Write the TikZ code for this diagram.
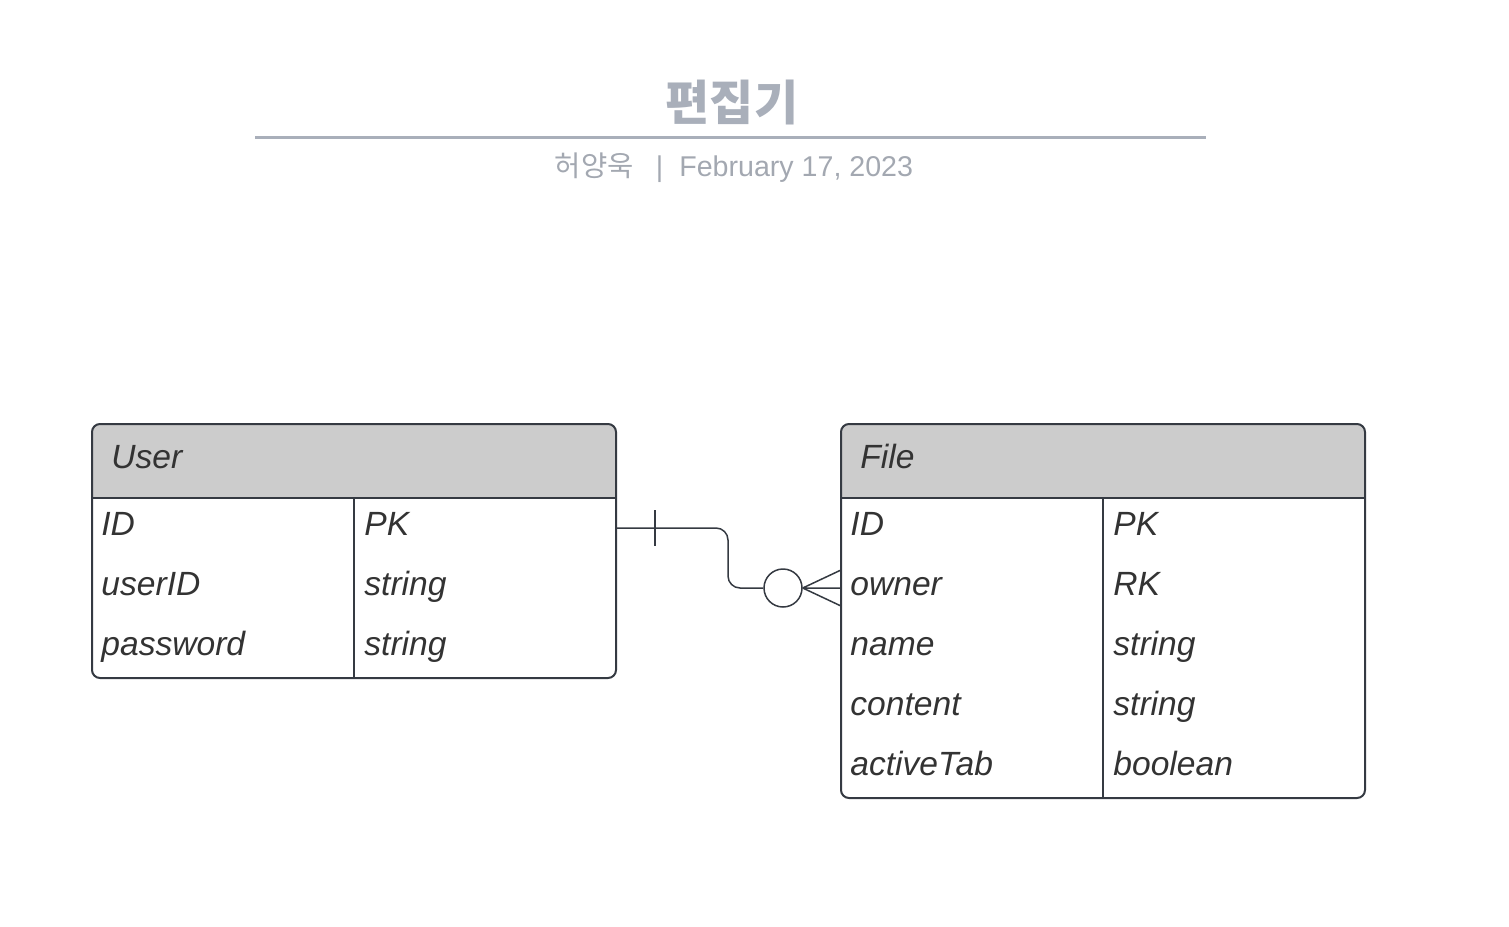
\documentclass[tikz,border=0pt]{standalone}
\usepackage{fontspec}
\setmainfont{Liberation Sans}
\newfontfamily\cjk{Noto Sans CJK KR}
\usepackage{tikz}
\usetikzlibrary{calc, positioning}
\definecolor{titlegray}{HTML}{A9AFBA}
\definecolor{subgray}{HTML}{A3A8B1}
\definecolor{linegray}{HTML}{353A42}
\definecolor{hdrgray}{HTML}{CCCCCC}
\definecolor{txtgray}{HTML}{333333}
\tikzset{
  tbl/.style={draw=linegray, line width=1pt},
  cell/.style={anchor=base west, inner sep=0pt, text=txtgray, font=\fontsize{16.8}{20}\selectfont\itshape},
  rel/.style={draw=linegray, line width=0.75pt},
}

\begin{document}
\begin{tikzpicture}[x=0.5pt,y=-0.5pt]
\useasboundingbox (0,0) rectangle (1509,926);
\node[text=titlegray, font=\cjk\bfseries\fontsize{24}{28}\selectfont] (title) at (732,102) {편집기};
\draw[titlegray, line width=1.5pt] (255,137) -- (1206,137);
\node[text=subgray, font=\fontsize{14.3}{17}\selectfont, anchor=base] (sub) at (734,176) {{\cjk 허양욱}\hspace{11pt}|\hspace{8pt}February 17, 2023};

\begin{scope}
\clip[rounded corners=4pt] (92,424) rectangle (616,678);
\fill[hdrgray] (92,424) rectangle (616,498);
\end{scope}
\draw[tbl, rounded corners=4pt] (92,424) rectangle (616,678);
\draw[tbl] (92,498) -- (616,498) (354,498) -- (354,678);
\node[cell] (user) at (111,468) {User};
\foreach \k/\v [count=\i] in {ID/PK, userID/string, password/string} {
  \node[cell] (user-k\i) at (101,475+60*\i) {\k};
  \node[cell] (user-v\i) at (364,475+60*\i) {\v};
}

\begin{scope}
\clip[rounded corners=4pt] (841,424) rectangle (1365,798);
\fill[hdrgray] (841,424) rectangle (1365,498);
\end{scope}
\draw[tbl, rounded corners=4pt] (841,424) rectangle (1365,798);
\draw[tbl] (841,498) -- (1365,498) (1103,498) -- (1103,798);
\node[cell] (file) at (860,468) {File};
\foreach \k/\v [count=\i] in {ID/PK, owner/RK, name/string, content/string, activeTab/boolean} {
  \node[cell] (file-k\i) at (850,475+60*\i) {\k};
  \node[cell] (file-v\i) at (1113,475+60*\i) {\v};
}

\coordinate (uid) at (616,528);
\coordinate (fown) at (841,588);
\node[circle, rel, fill=white, inner sep=0pt, minimum size=19pt] (zero) at (783,588) {};
\draw[rel, rounded corners=6pt] (uid) -- (728,528) -- (728,588) -- (zero.west);
\draw[rel] ($(uid)+(39,-18)$) -- ++(0,36);
\draw[rel] (zero.east) -- (fown) (zero.east) -- ($(fown)+(0,-18)$) (zero.east) -- ($(fown)+(0,18)$);
\end{tikzpicture}
\end{document}
